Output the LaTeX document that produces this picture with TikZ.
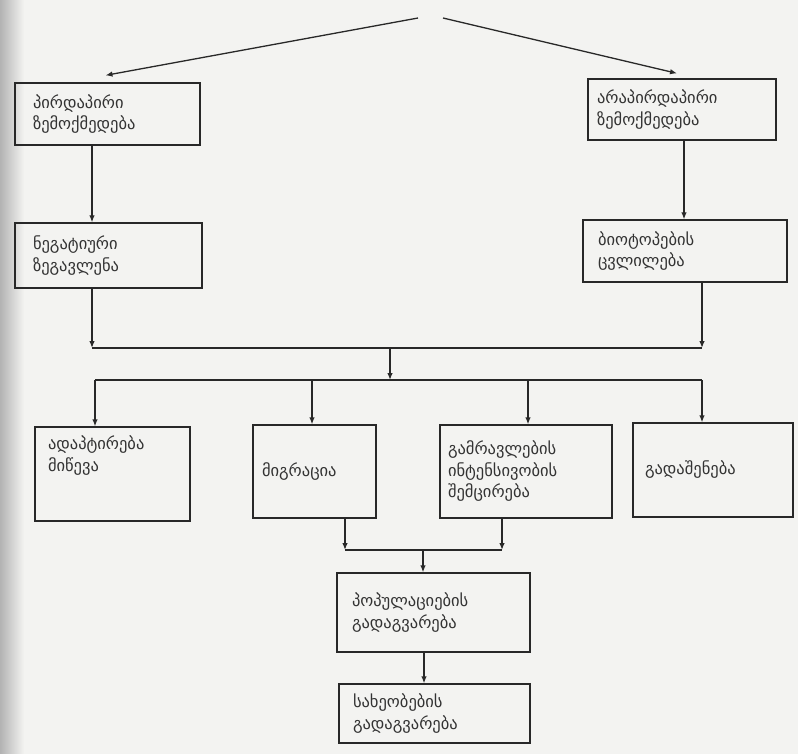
\documentclass[tikz,border=0pt]{standalone}
\usepackage{fontspec}
\newfontfamily\geo{DejaVu Sans}
\usetikzlibrary{arrows.meta,calc}
\definecolor{bgcol}{RGB}{243,243,241}
\definecolor{ink}{RGB}{40,40,40}
\begin{document}
\begin{tikzpicture}[x=1pt,y=-1pt,
  box/.style={draw=ink, line width=1.3pt, rectangle, inner sep=0pt, align=left,
    font=\geo\fontsize{16.5}{21.5}\selectfont, text=black!80},
  arr/.style={draw=ink, line width=1.3pt, -{Latex[length=7pt,width=5.5pt]}},
  ln/.style={draw=ink, line width=1.3pt}]
\useasboundingbox (0,0) rectangle (798,754);
\fill[bgcol] (0,0) rectangle (798,754);
\shade[left color=black!30, right color=bgcol] (0,0) rectangle (24,754);

% boxes (centre, width, height, text width)
\node[box, minimum width=185, minimum height=62, text width=149] (b1) at (107.5,114) {პირდაპირი\\ზემოქმედება};
\node[box, minimum width=188, minimum height=61, text width=170] (b2) at (682,109.5) {არაპირდაპირი\\ზემოქმედება};
\node[box, minimum width=187, minimum height=65, text width=151] (b3) at (108.5,255.5) {ნეგატიური\\ზეგავლენა};
\node[box, minimum width=204, minimum height=62, text width=174] (b4) at (685,251) {ბიოტოპების\\ცვლილება};
\node[box, minimum width=155, minimum height=94, text width=129] (b5) at (112.5,474)
  {\parbox[c][76pt][t]{129pt}{ადაპტირება\\მიწევა}};
\node[box, minimum width=123, minimum height=93, text width=105] (b6) at (314.5,471.5) {მიგრაცია};
\node[box, minimum width=172, minimum height=93, text width=156] (b7) at (526,471.5) {გამრავლების\\ინტენსივობის\\შემცირება};
\node[box, minimum width=160, minimum height=94, text width=136] (b8) at (713,470) {გადაშენება};
\node[box, minimum width=193, minimum height=79, text width=163] (b9) at (433.5,612.5) {პოპულაციების\\გადაგვარება};
\node[box, minimum width=191, minimum height=59, text width=163] (b10) at (434.5,713.5) {სახეობების\\გადაგვარება};

% junction coordinates
\coordinate (top1) at (418,18);
\coordinate (top2) at (443,18);
\coordinate (xl) at (92,0);
\coordinate (xr) at (684,0);
\coordinate (h1l) at (92,348);
\coordinate (h1r) at (702,348);
\coordinate (h1m) at (390,348);
\coordinate (h2m) at (390,380);
\coordinate (h2l) at (95,380);
\coordinate (h2r) at (702,380);
\coordinate (x6) at (312,380);
\coordinate (x7) at (528,380);
\coordinate (h3l) at (345,550);
\coordinate (h3r) at (502,550);
\coordinate (h3m) at (423,550);
\coordinate (x9) at (424,0);

% connectors
\draw[arr] (top1) -- ([xshift=-2pt,yshift=7pt]b1.north);
\draw[arr] (top2) -- ([xshift=-5pt,yshift=5pt]b2.north);
\draw[arr] (xl |- b1.south) -- (xl |- b3.north);
\draw[arr] (xr |- b2.south) -- (xr |- b4.north);
\draw[arr] (xl |- b3.south) -- (h1l);
\draw[arr] (h1r |- b4.south) -- (h1r);
\draw[ln] (h1l) -- (h1r);
\draw[arr] (h1m) -- (h2m);
\draw[ln] (h2l) -- (h2r);
\draw[arr] (h2l) -- (h2l |- b5.north);
\draw[arr] (x6) -- (x6 |- b6.north);
\draw[arr] (x7) -- (x7 |- b7.north);
\draw[arr] (h2r) -- (h2r |- b8.north);
\draw[arr] (h3l |- b6.south) -- (h3l);
\draw[arr] (h3r |- b7.south) -- (h3r);
\draw[ln] (h3l) -- (h3r);
\draw[arr] (h3m) -- (h3m |- b9.north);
\draw[arr] (x9 |- b9.south) -- (x9 |- b10.north);
\end{tikzpicture}
\end{document}
